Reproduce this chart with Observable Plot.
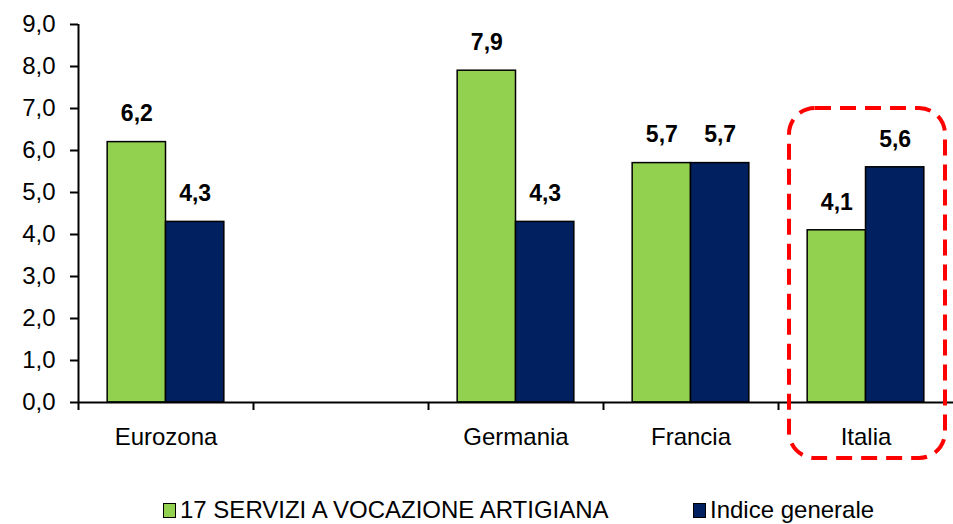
<!DOCTYPE html>
<html>
<head>
<meta charset="utf-8">
<script src="https://cdn.jsdelivr.net/npm/d3@7"></script>
<script src="https://cdn.jsdelivr.net/npm/@observablehq/plot@0.6"></script>
<style>
  html, body { margin: 0; padding: 0; background: #fff; }
  #chart { width: 953px; }
  .legend { position: relative; width: 953px; height: 54px; font-family: "Liberation Sans", Arial, sans-serif; font-size: 24px; color: #000; }
  .item { position: absolute; top: 26px; display: flex; align-items: center; white-space: nowrap; }
  .sw { width: 11px; height: 13px; border: 1.5px solid #000; margin-right: 4px; }
</style>
</head>
<body>
<div id="chart"></div>
<script>
const categories = ["Eurozona", "", "Germania", "Francia", "Italia"];
const seriesNames = ["17 SERVIZI A VOCAZIONE ARTIGIANA", "Indice generale"];
const serviziArtigiani = [6.2, null, 7.9, 5.7, 4.1];
const indiceGenerale = [4.3, null, 4.3, 5.7, 5.6];
const yTicks = [0, 1, 2, 3, 4, 5, 6, 7, 8, 9];
const colors = ["#92D050", "#002060"];
const highlight = [{country: "Italia", top: 7.0}];

const fmt = v => v.toFixed(1).replace(".", ",");
const seriesValues = [serviziArtigiani, indiceGenerale];
const data = [];
categories.forEach((c, i) => {
  seriesValues.forEach((vals, s) => {
    if (vals[i] != null) data.push({country: c, idx: i, s, series: seriesNames[s], value: vals[i]});
  });
});
const barW = 1 / 3;
const bx1 = d => d.idx + 0.5 + (d.s - 1) * barW;
const bx2 = d => bx1(d) + barW;
const bxc = d => bx1(d) + barW / 2;

const font = "Liberation Sans, Arial, sans-serif";
const chart = Plot.plot({
  width: 953,
  height: 470,
  marginLeft: 78,
  marginRight: 0,
  marginTop: 24,
  marginBottom: 68,
  style: {fontFamily: font, fontSize: "24px", color: "#000", background: "#fff", overflow: "visible"},
  x: {domain: [0, categories.length], axis: null},
  y: {domain: [0, 9], axis: null},
  color: {domain: seriesNames, range: colors},
  marks: [
    Plot.rectY(data, {x1: bx1, x2: bx2, y: "value", fill: "series", stroke: "#000", strokeWidth: 1.5}),
    Plot.text(data, {x: bxc, y: "value", text: d => fmt(d.value), dy: -28, fontWeight: "bold", fontSize: 23, fill: "#000"}),
    Plot.ruleY([0], {stroke: "#000", strokeWidth: 2}),
    Plot.ruleX([0], {stroke: "#000", strokeWidth: 2, insetBottom: -8}),
    Plot.axisY({ticks: yTicks, tickFormat: fmt, tickSize: 8, tickPadding: 15, fontSize: 24, strokeWidth: 2, label: null}),
    Plot.axisX({ticks: d3.range(1, categories.length), tickSize: 8, tickFormat: () => "", strokeWidth: 2, label: null}),
    Plot.axisX({ticks: categories.map((c, i) => i + 0.5), tickSize: 0, tickPadding: 25, tickFormat: d => categories[Math.floor(d)], fontSize: 24, label: null}),
    Plot.rect(highlight, {
      x1: d => categories.indexOf(d.country), x2: d => categories.indexOf(d.country) + 1,
      y1: 0, y2: "top", insetLeft: 11, insetRight: 8, insetBottom: -56,
      rx: 26, fill: "none", stroke: "#FF0000", strokeWidth: 4, strokeDasharray: "16,9"
    })
  ]
});
document.getElementById("chart").append(chart);

const legend = document.createElement("div");
legend.className = "legend";
const lefts = [163, 693];
seriesNames.forEach((name, i) => {
  const item = document.createElement("div");
  item.className = "item";
  item.style.left = lefts[i] + "px";
  const sw = document.createElement("div");
  sw.className = "sw";
  sw.style.background = colors[i];
  const t = document.createElement("span");
  t.textContent = name;
  item.append(sw, t);
  legend.append(item);
});
document.body.append(legend);
</script>
</body>
</html>
